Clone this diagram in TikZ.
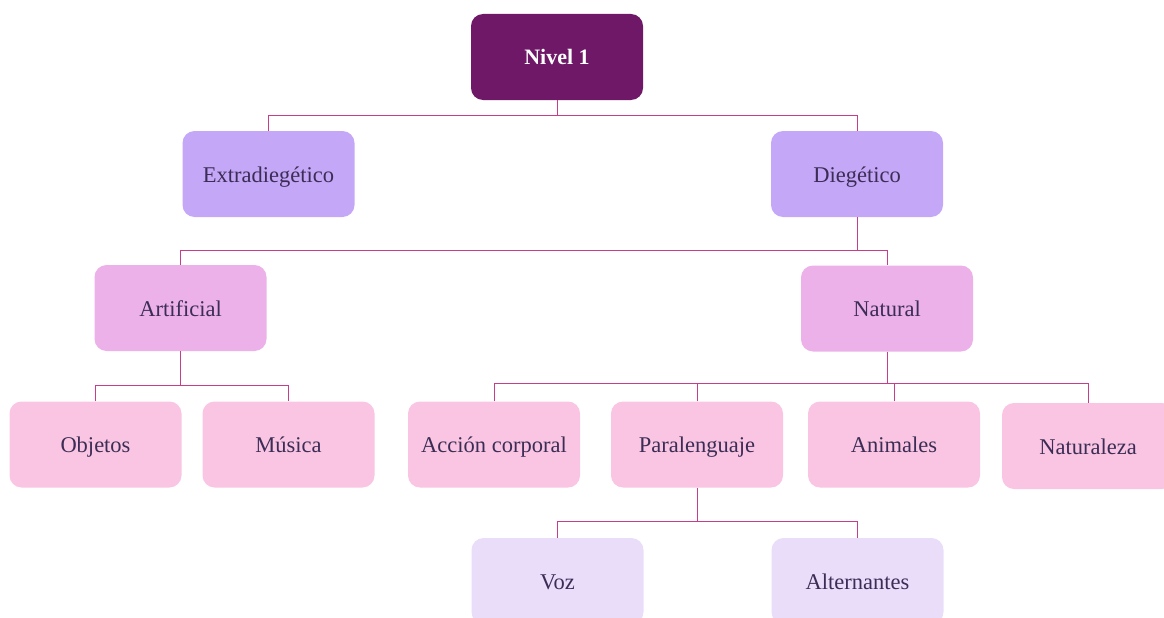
\documentclass[tikz,border=0pt]{standalone}
\usepackage{fontspec}
\setmainfont{Liberation Serif}
\definecolor{nivel}{HTML}{6F1868}
\definecolor{lvtwo}{HTML}{C4A7F7}
\definecolor{lvthree}{HTML}{EDB1EA}
\definecolor{lvfour}{HTML}{F9C5E2}
\definecolor{lvfive}{HTML}{E9DDFA}
\definecolor{txt}{HTML}{3B2D55}
\definecolor{conncol}{HTML}{C83C8C}
\begin{document}
\begin{tikzpicture}[x=1pt,y=-1pt,
  box/.style={rounded corners=12pt, minimum width=172pt, minimum height=86pt, inner sep=0pt,
    text height=17pt, text depth=1pt,
    text=txt, font=\fontsize{22.5}{26}\selectfont},
  topbox/.style={box, fill=nivel, text=white, font=\fontsize{22}{26}\selectfont\bfseries},
  ltwo/.style={box, fill=lvtwo},
  lthree/.style={box, fill=lvthree},
  lfour/.style={box, fill=lvfour},
  lfive/.style={box, fill=lvfive},
  conn/.style={draw=conncol, line width=1pt}]
\useasboundingbox (0,0) rectangle (1164,618);
\clip (0,0) rectangle (1164,618);
\node[topbox] (n1) at (557,57) {Nivel 1};
\node[ltwo] (ex) at (268.5,174) {Extradiegético};
\node[ltwo] (di) at (857,174) {Diegético};
\node[lthree] (ar) at (180.5,308) {Artificial};
\node[lthree] (nat) at (887,308.5) {Natural};
\node[lfour] (ob) at (95.5,444.5) {Objetos};
\node[lfour] (mu) at (288.5,444.5) {Música};
\node[lfour] (ac) at (494,444.5) {Acción corporal};
\node[lfour] (pa) at (697,444.5) {Paralenguaje};
\node[lfour] (an) at (894,444.5) {Animales};
\node[lfour] (nz) at (1088,446) {Naturaleza};
\node[lfive] (voz) at (557.5,581) {Voz};
\node[lfive] (alt) at (857.5,581) {Alternantes};
% connectors
\draw[conn] (n1.south) -- ++(0,15) coordinate (b1);
\draw[conn] (ex.north) |- (b1) -| (di.north);
\draw[conn] (di.south) -- ++(0,33) coordinate (b2);
\draw[conn] (ar.north) |- (b2) -| (nat.north);
\draw[conn] (ar.south) -- ++(0,34) coordinate (b3);
\draw[conn] (ob.north) |- (b3) -| (mu.north);
\draw[conn] (nat.south) -- ++(0,32) coordinate (b4);
\draw[conn] (ac.north) |- (b4) -| (nz.north);
\draw[conn] (pa.north) -- (pa.north |- b4);
\draw[conn] (an.north) -- (an.north |- b4);
\draw[conn] (pa.south) -- ++(0,34) coordinate (b5);
\draw[conn] (voz.north) |- (b5) -| (alt.north);
\end{tikzpicture}
\end{document}
